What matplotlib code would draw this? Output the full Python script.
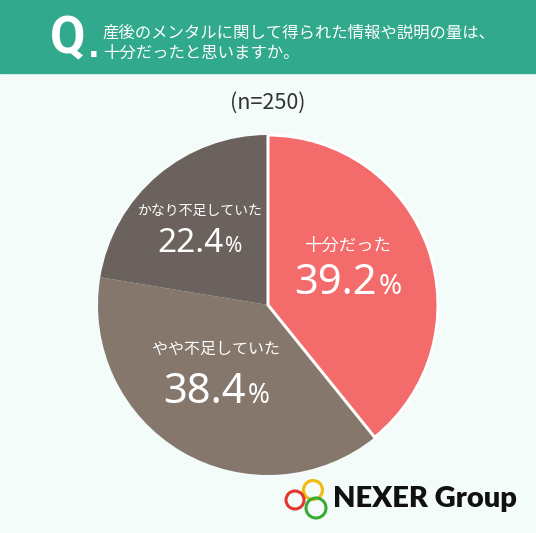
import matplotlib
matplotlib.use("Agg")
import matplotlib.pyplot as plt
from matplotlib.patches import Rectangle, Circle

categories = ["十分だった", "やや不足していた", "かなり不足していた"]
values = [39.2, 38.4, 22.4]
value_labels = ["39.2", "38.4", "22.4"]
title_lines = ["産後のメンタルに関して得られた情報や説明の量は、", "十分だったと思いますか。"]
n_label = "(n=250)"
brand = "NEXER Group"

colors = ["#f36b6a", "#85776c", "#6b625d"]
bg = "#f4fcf9"
green = "#31a98c"

W, H = 536, 533
fig = plt.figure(figsize=(W / 100, H / 100), dpi=100, facecolor=bg)
ax = fig.add_axes([0, 0, 1, 1])
ax.set_facecolor(bg)

JP = ["Noto Sans CJK JP", "DejaVu Sans"]

def Y(y):
    return H - y

# header band
ax.add_patch(Rectangle((0, Y(73)), W, 73, color=green, zorder=1))
ax.text(50, Y(53), "Q", color="white", fontsize=37, fontweight="bold",
        family=["Roboto"], ha="left", va="baseline", zorder=3)
ax.text(88, Y(57), ".", color="white", fontsize=22, fontweight="bold",
        family=["DejaVu Sans"], ha="left", va="baseline", zorder=3)
ax.text(103, Y(33), title_lines[0], color="white", fontsize=11.8, family=JP,
        ha="left", va="center", zorder=3)
ax.text(103, Y(53), title_lines[1], color="white", fontsize=11.8, family=JP,
        ha="left", va="center", zorder=3)

ax.text(268, Y(103), n_label, color="#333333", fontsize=15.5, family=JP,
        ha="center", va="center")

# pie
cx, cy, r = 268, Y(305), 170
wedges, _ = ax.pie(values, colors=colors, startangle=90, counterclock=False,
                   center=(cx, cy), radius=r, wedgeprops=dict(linewidth=0))
wedges[0].set_edgecolor("white")
wedges[0].set_linewidth(2.2)
wedges[0].set_zorder(5)

# labels: (center x, label y, label size, number baseline y, number size, % size)
label_pos = {
    0: (348, 246, 12.5, 294, 30, 20),
    1: (216, 349, 11.5, 403, 30, 19),
    2: (200, 211, 10, 252, 24, 15),
}
fig.canvas.draw()
renderer = fig.canvas.get_renderer()
for i, (x, ly, lfs, ny, nfs, pfs) in label_pos.items():
    ax.text(x, Y(ly), categories[i], color="white", fontsize=lfs, family=JP,
            ha="center", va="center", zorder=6)
    t1 = ax.text(0, Y(ny), value_labels[i], color="white", fontsize=nfs,
                 family=["Noto Sans"], fontweight="semibold", ha="left", va="baseline", zorder=6)
    t2 = ax.text(0, Y(ny), "%", color="white", fontsize=pfs,
                 family=["Noto Sans"], fontweight="semibold", ha="left", va="baseline", zorder=6)
    w1 = t1.get_window_extent(renderer).width
    w2 = t2.get_window_extent(renderer).width
    total = w1 + 2 + w2
    x0 = x - total / 2
    t1.set_x(x0)
    t2.set_x(x0 + w1 + 2)

# logo
ring_specs = [((313, 490), 9.5, "#f2b90f"), ((295, 500), 9, "#e2362f"), ((316, 508), 10, "#3aa935")]
for (x, y), rr, c in ring_specs:
    ax.add_patch(Circle((x, Y(y)), rr, fill=False, edgecolor=c, linewidth=2.2, zorder=7))
ax.text(333, Y(499), brand, color="#111111", fontsize=21, fontweight="heavy",
        family=["Lato", "DejaVu Sans"], ha="left", va="center", zorder=7)

ax.set_xlim(0, W)
ax.set_ylim(0, H)
ax.set_aspect("equal")
ax.axis("off")
fig.savefig("out.png", dpi=100, facecolor=bg)
